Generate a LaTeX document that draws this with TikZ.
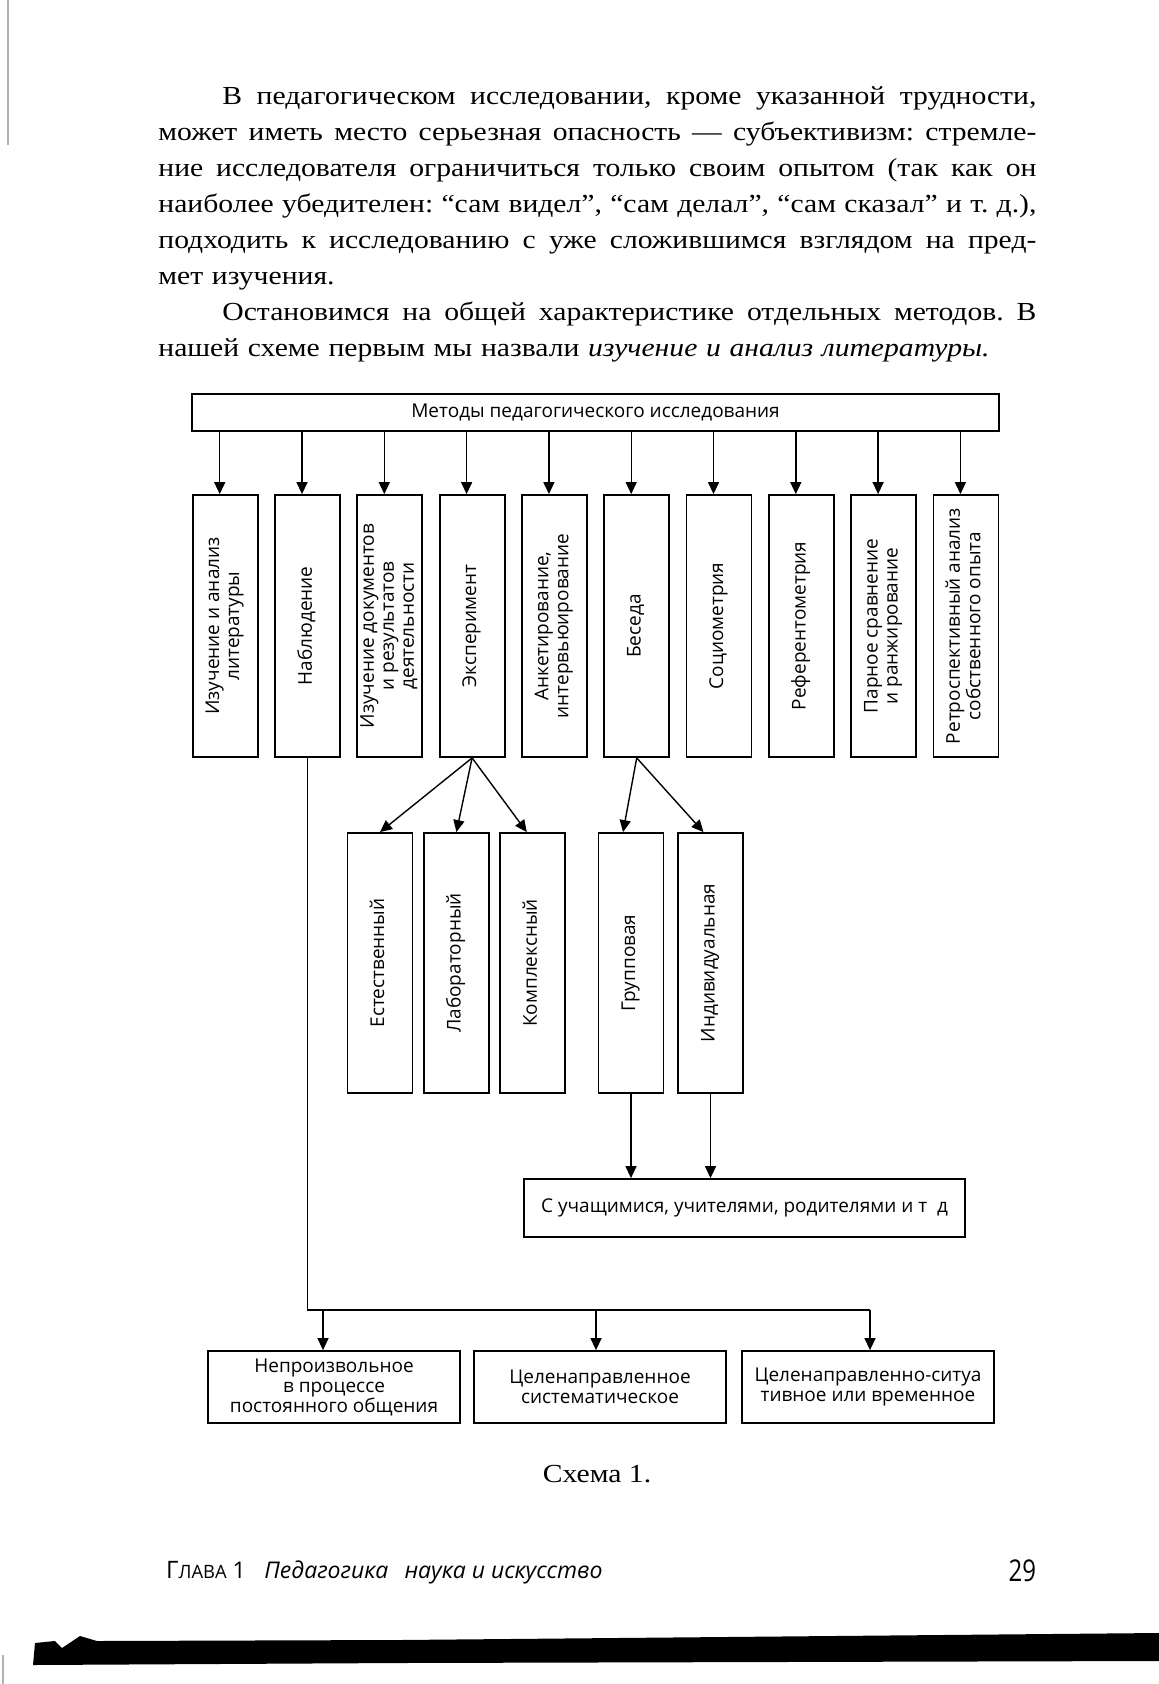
\documentclass[tikz,border=0pt]{standalone}
\usepackage{fontspec}
\setmainfont{Liberation Serif}[FakeStretch=1.14]
\newfontfamily\schemefont{Open Sans}
\usetikzlibrary{arrows.meta,positioning}
\frenchspacing
\newcommand{\rotlabel}[1]{\rotatebox{90}{\begin{tabular}{@{}c@{}}#1\end{tabular}}}
\newcommand{\fullline}[1]{\makebox[439pt][s]{\spaceskip=0pt\xspaceskip=0pt #1}}

\begin{document}
\begin{tikzpicture}[x=0.5pt, y=-0.5pt, node distance=41.15pt]
    % Define styles
    \tikzstyle{column} = [rectangle, draw, line width=0.9pt, minimum width=32.5pt, minimum height=131pt, inner sep=1pt, font=\schemefont\fontsize{9.5}{10}\selectfont]
    \tikzstyle{subcolumn} = [column, minimum height=130pt]
    \tikzstyle{wide} = [rectangle, draw, line width=0.9pt, inner sep=1pt, align=center, font=\schemefont\fontsize{9.5}{10}\selectfont]
    \tikzstyle{kind} = [wide, minimum width=126pt, minimum height=36pt]
    \tikzstyle{wire} = [line width=0.7pt]
    \tikzstyle{arrow} = [wire, -{Triangle[length=6pt, width=5.5pt]}]

    \useasboundingbox (0,0) rectangle (1159,1684);

    % Page text above the scheme
    \node [anchor=north west, inner sep=0pt, text width=439pt, align=left, font=\fontsize{13}{18}\selectfont] (body) at (158,86) {%
    \fullline{\hspace*{32pt}В педагогическом исследовании, кроме указанной трудности,}\\
    \fullline{может иметь место серьезная опасность — субъективизм: стремле-}\\
    \fullline{ние исследователя ограничиться только своим опытом (так как он}\\
    \fullline{наиболее убедителен: “сам видел”, “сам делал”, “сам сказал” и т.~д.),}\\
    \fullline{подходить к исследованию с уже сложившимся взглядом на пред-}\\
    мет изучения.\\
    \fullline{\hspace*{32pt}Остановимся на общей характеристике отдельных методов. В}\\
    нашей схеме первым мы назвали \textit{изучение и анализ литературы.}};

    % Heading of the scheme
    \node [wide, minimum width=403.5pt, minimum height=18.5pt] (methods) at (595.5,412.5) {Методы педагогического исследования};

    % Methods row
    \node [column] (literature) at (225.2,626) {\rotlabel{Изучение и анализ\\литературы}};
    \node [column, right of=literature] (observation) {\rotlabel{Наблюдение}};
    \node [column, right of=observation] (documents) {\rotlabel{Изучение документов\\и результатов\\деятельности}};
    \node [column, right of=documents] (experiment) {\rotlabel{Эксперимент}};
    \node [column, right of=experiment] (survey) {\rotlabel{Анкетирование,\\интервьюирование}};
    \node [column, right of=survey] (talk) {\rotlabel{Беседа}};
    \node [column, right of=talk] (sociometry) {\rotlabel{Социометрия}};
    \node [column, right of=sociometry] (referent) {\rotlabel{Референтометрия}};
    \node [column, right of=referent] (ranking) {\rotlabel{Парное сравнение\\и ранжирование}};
    \node [column, right of=ranking] (retro) {\rotlabel{Ретроспективный анализ\\собственного опыта}};

    % Kinds of experiment
    \node [subcolumn] (natural) at (380,963) {\rotlabel{Естественный}};
    \node [subcolumn, right of=natural, xshift=-2.95pt] (laboratory) {\rotlabel{Лабораторный}};
    \node [subcolumn, right of=laboratory, xshift=-2.95pt] (complex) {\rotlabel{Комплексный}};

    % Kinds of talk
    \node [subcolumn] (group) at (631,963) {\rotlabel{Групповая}};
    \node [subcolumn, right of=group, xshift=-1.4pt] (individual) {\rotlabel{Индивидуальная}};
    \node [wide, minimum width=220.5pt, minimum height=29pt] (audience) at (744.5,1208) {С учащимися, учителями, родителями и т\ \ д};

    % Kinds of observation
    \node [kind] (involuntary) at (334,1387) {Непроизвольное\\в процессе\\постоянного общения};
    \node [kind] (systematic) at (600,1387) {Целенаправленное\\систематическое};
    \node [kind] (situational) at (868,1387) {Целенаправленно-ситуа\\тивное или временное};

    % Arrows from the heading
    \draw [arrow] ([xshift=-2.75pt]literature.north |- methods.south) -- ([xshift=-2.75pt]literature.north);
    \draw [arrow] ([xshift=-2.75pt]observation.north |- methods.south) -- ([xshift=-2.75pt]observation.north);
    \draw [arrow] ([xshift=-2.75pt]documents.north |- methods.south) -- ([xshift=-2.75pt]documents.north);
    \draw [arrow] ([xshift=-2.75pt]experiment.north |- methods.south) -- ([xshift=-2.75pt]experiment.north);
    \draw [arrow] ([xshift=-2.75pt]survey.north |- methods.south) -- ([xshift=-2.75pt]survey.north);
    \draw [arrow] ([xshift=-2.75pt]talk.north |- methods.south) -- ([xshift=-2.75pt]talk.north);
    \draw [arrow] ([xshift=-2.75pt]sociometry.north |- methods.south) -- ([xshift=-2.75pt]sociometry.north);
    \draw [arrow] ([xshift=-2.75pt]referent.north |- methods.south) -- ([xshift=-2.75pt]referent.north);
    \draw [arrow] ([xshift=-2.75pt]ranking.north |- methods.south) -- ([xshift=-2.75pt]ranking.north);
    \draw [arrow] ([xshift=-2.75pt]retro.north |- methods.south) -- ([xshift=-2.75pt]retro.north);

    % Experiment and talk branches
    \draw [arrow] (experiment.south) -- (natural.north);
    \draw [arrow] (experiment.south) -- (laboratory.north);
    \draw [arrow] (experiment.south) -- ([xshift=-3pt]complex.north);
    \draw [arrow] (talk.south) -- ([xshift=-4pt]group.north);
    \draw [arrow] (talk.south) -- ([xshift=-3.5pt]individual.north);
    \draw [arrow] (group.south) -- (group.south |- audience.north);
    \draw [arrow] (individual.south) -- (individual.south |- audience.north);

    % Observation branch
    \coordinate (split) at (observation.south |- 0,1310);
    \draw [wire] (observation.south) -- (split) -- ([xshift=1pt]split -| situational.north);
    \draw [arrow] ([xshift=-5.5pt]split -| involuntary.north) -- ([xshift=-5.5pt]involuntary.north);
    \draw [arrow] ([xshift=-2pt]split -| systematic.north) -- ([xshift=-2pt]systematic.north);
    \draw [arrow] ([xshift=1pt]split -| situational.north) -- ([xshift=1pt]situational.north);

    % Caption and running foot
    \node [font=\fontsize{13}{15}\selectfont] (caption) at (597,1474) {Схема 1.};
    \node [anchor=base west, inner sep=0pt, font=\schemefont] (running) at (165.7,1578) {{\fontsize{12}{14}\selectfont Г}{\fontsize{9.2}{11}\selectfont ЛАВА}\fontsize{11.5}{13}\selectfont\ 1\hspace{0.8em}\textit{Педагогика\hspace{0.7em}наука и искусство}};
    \node [anchor=base east, inner sep=0pt, font=\schemefont] (folio) at (1036.5,1581) {\scalebox{0.8}[1]{\fontsize{15}{15}\selectfont 29}};

    % Scan edges
    \fill (33,1665) -- (35,1643) -- (55,1641) -- (62,1648) -- (80,1636) -- (97,1641) -- (400,1640) -- (1159,1633) -- (1159,1661) -- (400,1663) -- cycle;
    \draw [gray!60, line width=0.6pt] (8,0) -- (8,145);
    \draw [gray!60, line width=0.6pt] (3,1655) -- (3,1684);
\end{tikzpicture}
\end{document}
